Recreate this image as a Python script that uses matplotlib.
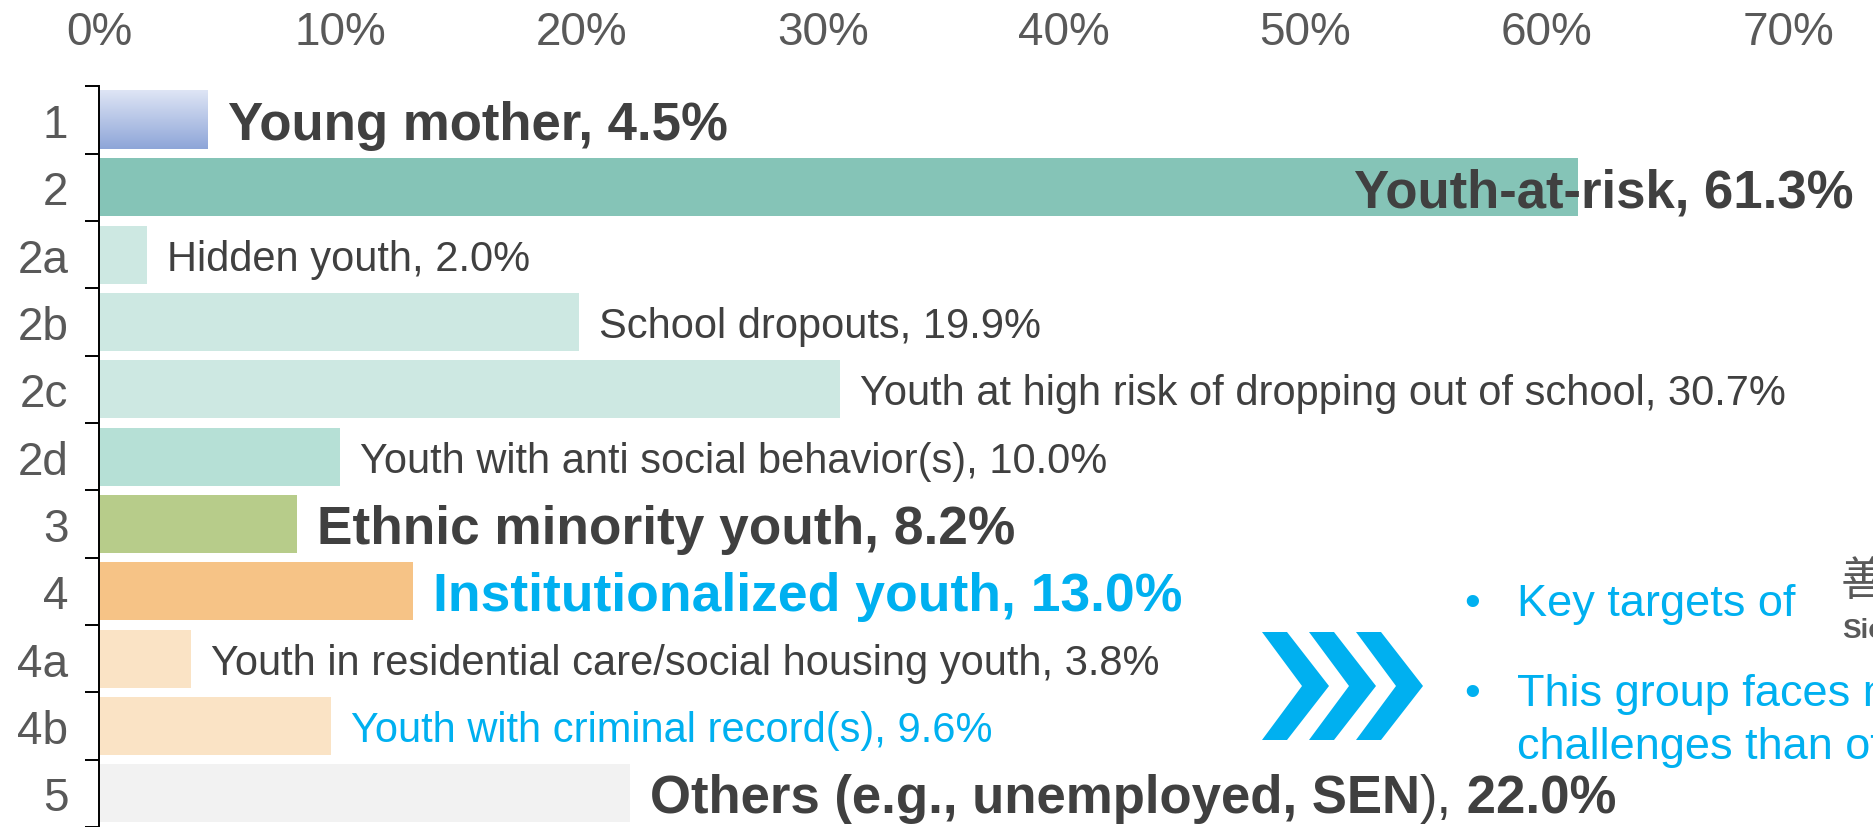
import numpy as np
import matplotlib
matplotlib.use('Agg')
import matplotlib.pyplot as plt
from matplotlib.patches import Polygon

plt.rcParams['font.family'] = ['Liberation Sans', 'Noto Sans CJK SC', 'DejaVu Sans']

# shares of each target group (%)
row_ids = ['1', '2', '2a', '2b', '2c', '2d', '3', '4', '4a', '4b', '5']
shares = [4.5, 61.3, 2.0, 19.9, 30.7, 10.0, 8.2, 13.0, 3.8, 9.6, 22.0]
names = ['Young mother', 'Youth-at-risk', 'Hidden youth', 'School dropouts',
         'Youth at high risk of dropping out of school',
         'Youth with anti social behavior(s)', 'Ethnic minority youth',
         'Institutionalized youth',
         'Youth in residential care/social housing youth',
         'Youth with criminal record(s)', 'Others (e.g., unemployed, SEN)']
x_ticks = [0, 10, 20, 30, 40, 50, 60, 70]

DARK = '#404040'
GREY = '#595959'
BLUE = '#00b0f0'

bar_colors = ['none', '#85c4b7', '#cde8e2', '#cde8e2', '#cde8e2', '#b6e0d6',
              '#b7cc8a', '#f6c386', '#fae3c5', '#fae3c5', '#f2f2f2']
# (size, weight, colour) for each row label
label_styles = [(38, 'bold', DARK), (38, 'bold', DARK), (30, 'normal', DARK),
                (30, 'normal', DARK), (30, 'normal', DARK), (30, 'normal', DARK),
                (38.3, 'bold', DARK), (38.5, 'bold', BLUE), (30, 'normal', DARK),
                (30, 'normal', BLUE), (38, 'bold', DARK)]

W, H = 1873, 828
fig = plt.figure(figsize=(W / 100, H / 100), dpi=100)
ax = fig.add_axes([99 / W, 0, 1 - 99 / W, 1 - 87.3 / H])

rows = np.arange(len(row_ids))
bar_h = 0.865
bars = ax.barh(rows, shares, height=bar_h, color=bar_colors, zorder=1)

# gradient fill for the first bar
b0 = bars[0]
grad = np.linspace(0, 1, 64)[:, None, None]
top_c = np.array([222, 229, 245]) / 255
bot_c = np.array([142, 165, 216]) / 255
img = top_c * (1 - grad) + bot_c * grad
ax.imshow(img, extent=(b0.get_x(), b0.get_x() + b0.get_width(),
                       b0.get_y() + b0.get_height(), b0.get_y()),
          origin='upper', aspect='auto', zorder=1)

ax.set_xlim(0, (W - 99) / 24.13)
ax.set_ylim(-0.5 + (H - 87.3) / 67.5, -0.5)

ax.xaxis.tick_top()
ax.set_xticks(x_ticks)
ax.set_xticklabels([f'{v}%' for v in x_ticks])
ax.tick_params(axis='x', length=0, pad=23, labelsize=33, labelcolor=GREY)

ax.set_yticks(rows)
ax.set_yticklabels(row_ids)
ax.set_yticks(np.arange(-0.5, len(rows), 1), minor=True)
ax.tick_params(axis='y', which='major', length=0, pad=22, labelsize=33, labelcolor=GREY)
ax.tick_params(axis='y', which='minor', length=10, width=1.4, color='black', direction='out')

for s in ['top', 'right', 'bottom']:
    ax.spines[s].set_visible(False)
ax.spines['left'].set_linewidth(1.4)
ax.spines['left'].set_color('black')

renderer = fig.canvas.get_renderer()


def draw_label(y, x, parts, size, color, dx=14.4):
    for text, weight in parts:
        t = ax.annotate(text, xy=(x, y), xytext=(dx, -0.358 * size),
                        textcoords='offset points', ha='left', va='baseline',
                        fontsize=size, fontweight=weight, color=color, zorder=3)
        dx += t.get_window_extent(renderer).width * 72 / fig.dpi


for i, (name, val) in enumerate(zip(names, shares)):
    size, weight, color = label_styles[i]
    if i == len(names) - 1:
        parts = [(name[:-1], 'bold'), (name[-1] + ',', 'normal'), (f' {val:.1f}%', 'bold')]
    else:
        parts = [(f'{name}, {val:.1f}%', weight)]
    if row_ids[i] == '2':
        # this label sits over the end of its own bar
        draw_label(i, 52.0, parts, size, color, dx=0)
    else:
        draw_label(i, val, parts, size, color)

# side notes with arrow chevrons
ov = fig.add_axes([0, 0, 1, 1], zorder=5)
ov.set_xlim(0, W)
ov.set_ylim(H, 0)
ov.axis('off')
ov.patch.set_alpha(0)

for k in range(3):
    x0 = 1262 + 47 * k
    pts = [(x0, 633), (x0 + 25, 633), (x0 + 67, 687), (x0 + 25, 741),
           (x0, 741), (x0 + 40, 687)]
    ov.add_patch(Polygon(pts, closed=True, facecolor=BLUE, edgecolor='none'))

note_size = 32.5
ov.text(1464, 616, '•', fontsize=note_size, color=BLUE, va='baseline', ha='left')
ov.text(1517, 616, 'Key targets of', fontsize=note_size, color=BLUE, va='baseline', ha='left')
ov.text(1841, 583, '善', fontsize=33, color=GREY, va='center', ha='left')
ov.text(1842, 638, 'Sic', fontsize=20, fontweight='bold', color=GREY, va='baseline', ha='left')
ov.text(1464, 706, '•', fontsize=note_size, color=BLUE, va='baseline', ha='left')
ov.text(1517, 706, 'This group faces more', fontsize=note_size, color=BLUE,
        va='baseline', ha='left')
ov.text(1517, 759, 'challenges than others', fontsize=note_size, color=BLUE,
        va='baseline', ha='left')

fig.savefig('out.png', dpi=100)
